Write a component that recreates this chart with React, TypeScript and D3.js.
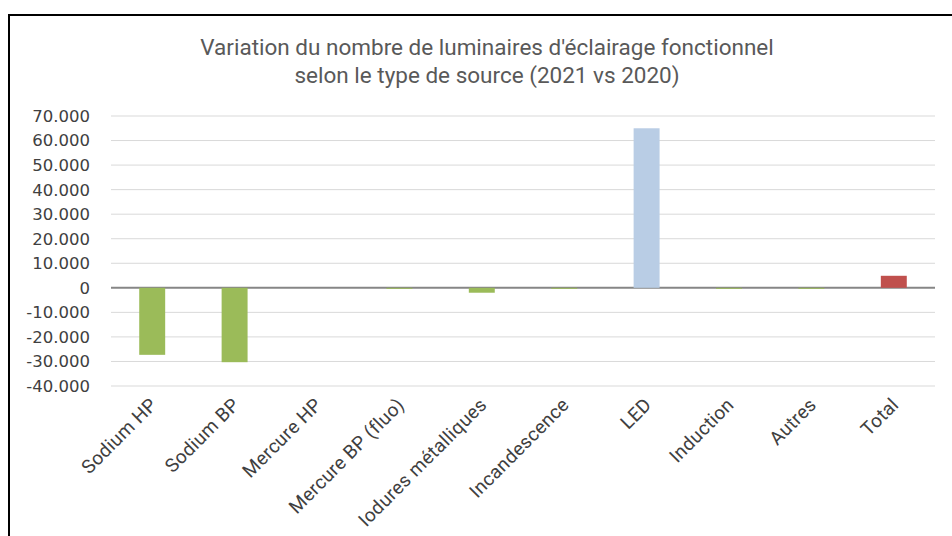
import React from "react";
import * as d3 from "d3";

const categories = [
  "Sodium HP",
  "Sodium BP",
  "Mercure HP",
  "Mercure BP (fluo)",
  "Iodures métalliques",
  "Incandescence",
  "LED",
  "Induction",
  "Autres",
  "Total",
];
const values = [-27300, -30300, 0, -400, -2000, -400, 65000, -400, -400, 4900];
const barColors = [
  "#9BBB59",
  "#9BBB59",
  "#9BBB59",
  "#9BBB59",
  "#9BBB59",
  "#9BBB59",
  "#B9CDE5",
  "#9BBB59",
  "#9BBB59",
  "#C0504D",
];
const yTicks = [70000, 60000, 50000, 40000, 30000, 20000, 10000, 0, -10000, -20000, -30000, -40000];
const titleLines = [
  "Variation du nombre de luminaires d'éclairage fonctionnel",
  "selon le type de source (2021 vs 2020)",
];

const W = 952;
const H = 536;
const left = 111;
const right = 935;

export default function App() {
  const x = d3.scaleBand<string>().domain(categories).range([left, right]).paddingInner(0.685).paddingOuter(0.3425);
  const y = d3.scaleLinear().domain([-40000, 70000]).range([386, 116]);
  const fmt = (v: number) => d3.format(",")(v).replace(/,/g, ".").replace("−", "-");
  const bw = x.bandwidth();
  return (
    <svg width={W} height={H} style={{ position: "absolute", left: 0, top: 0, background: "#fff" }}>
      <rect x={0} y={0} width={W} height={H} fill="#fff" />
      <rect x={9} y={15} width={W + 20} height={H + 20} fill="none" stroke="#000" strokeWidth={2} />
      {titleLines.map((t, i) => (
        <text
          key={i}
          x={487}
          y={55 + i * 28}
          textAnchor="middle"
          fontFamily="Roboto, sans-serif"
          fontSize={22.5}
          fill="#595959"
        >
          {t}
        </text>
      ))}
      {yTicks.map((t) => (
        <g key={t}>
          {t !== 0 && (
            <line x1={left} x2={right} y1={y(t)} y2={y(t)} stroke="#d9d9d9" strokeWidth={1} />
          )}
          <text
            x={90}
            y={y(t)}
            dy="0.36em"
            textAnchor="end"
            fontFamily="'DejaVu Sans', sans-serif"
            fontSize={16.5}
            fill="#404040"
          >
            {fmt(t)}
          </text>
        </g>
      ))}
      <line x1={left} x2={right} y1={y(0)} y2={y(0)} stroke="#868686" strokeWidth={2} />
      {categories.map((c, i) => {
        const v = values[i];
        const y0 = y(Math.max(0, v));
        const y1 = y(Math.min(0, v));
        return <rect key={c} x={x(c)} y={y0} width={bw} height={Math.max(0, y1 - y0)} fill={barColors[i]} />;
      })}
      {categories.map((c) => {
        const cx = (x(c) as number) + bw / 2 + 6;
        return (
          <text
            key={c}
            transform={`translate(${cx},406) rotate(-45)`}
            textAnchor="end"
            fontFamily="Roboto, sans-serif"
            fontSize={19}
            letterSpacing={0.3}
            fill="#404040"
          >
            {c}
          </text>
        );
      })}
    </svg>
  );
}
